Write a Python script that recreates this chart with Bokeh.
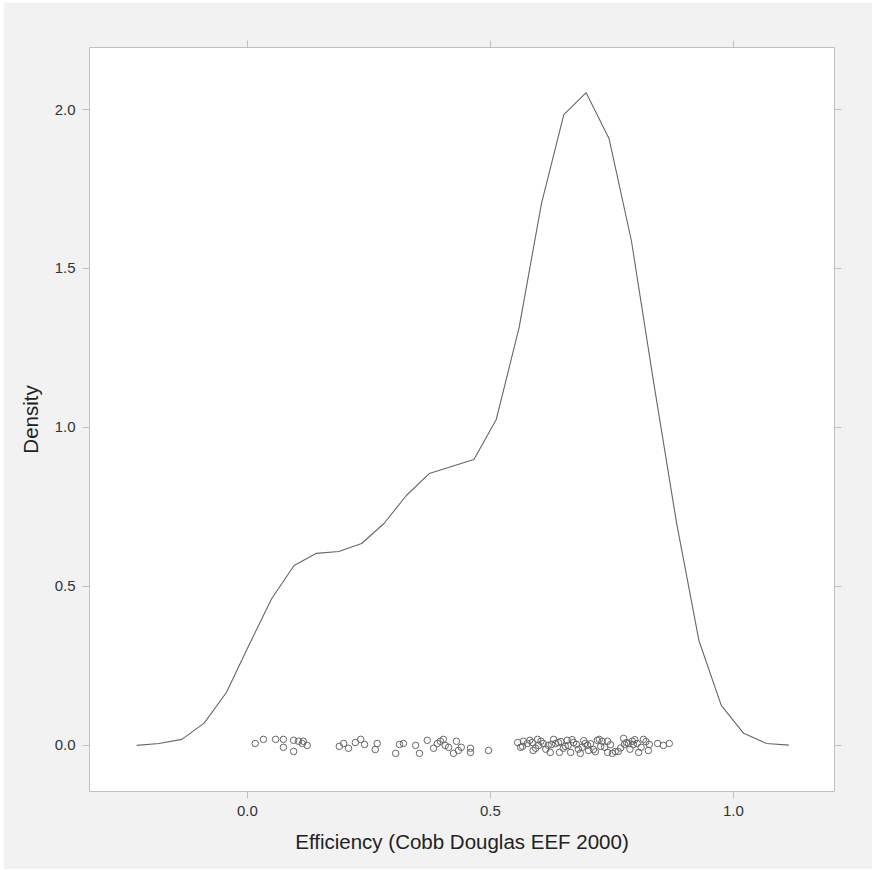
from bokeh.plotting import figure
from bokeh.models import FixedTicker, LinearAxis, Range1d, NumeralTickFormatter
from bokeh.embed import file_html
from bokeh.resources import INLINE

# Density curve
dens_x = [-0.228, -0.182, -0.135, -0.089, -0.043, 0.003, 0.050, 0.096, 0.142, 0.188,
          0.235, 0.281, 0.327, 0.374, 0.420, 0.466, 0.512, 0.559, 0.605, 0.651,
          0.697, 0.744, 0.790, 0.836, 0.883, 0.929, 0.975, 1.021, 1.068, 1.114]
dens_y = [0.000, 0.006, 0.019, 0.070, 0.167, 0.315, 0.462, 0.566, 0.604, 0.610,
          0.635, 0.698, 0.786, 0.855, 0.877, 0.899, 1.025, 1.314, 1.704, 1.984,
          2.053, 1.909, 1.588, 1.140, 0.700, 0.330, 0.126, 0.038, 0.006, 0.001]

# Observed efficiencies (x) with jitter (y) as drawn in the rug of points
obs_x = [0.016, 0.033, 0.058, 0.074, 0.074, 0.095, 0.095, 0.105, 0.113, 0.115, 0.123,
         0.189, 0.198, 0.208, 0.222, 0.233, 0.241, 0.263, 0.267, 0.305, 0.313, 0.321,
         0.346, 0.354, 0.370, 0.383, 0.391, 0.397, 0.403, 0.407, 0.414, 0.424, 0.430,
         0.434, 0.440, 0.459, 0.459, 0.496,
         0.556, 0.562, 0.568, 0.576, 0.586, 0.588, 0.597, 0.599, 0.609, 0.619, 0.623,
         0.630, 0.634, 0.640, 0.642, 0.650, 0.658, 0.660, 0.665, 0.671, 0.677, 0.685,
         0.689, 0.695, 0.700, 0.702, 0.712, 0.720, 0.724, 0.730, 0.735, 0.741, 0.741,
         0.751, 0.757, 0.763, 0.774, 0.776, 0.780, 0.784, 0.792, 0.794, 0.802, 0.805,
         0.815, 0.825, 0.827, 0.844, 0.856, 0.868,
         0.566, 0.581, 0.593, 0.604, 0.614, 0.626, 0.645, 0.654, 0.668, 0.681, 0.692,
         0.706, 0.716, 0.727, 0.747, 0.768, 0.787, 0.797, 0.810, 0.820]
obs_jit = [0.006, 0.019, 0.019, 0.019, -0.006, 0.016, -0.019, 0.013, 0.006, 0.013, 0.000,
           -0.003, 0.006, -0.009, 0.009, 0.019, 0.003, -0.013, 0.006, -0.025, 0.003, 0.006,
           0.000, -0.025, 0.016, -0.009, 0.006, 0.013, 0.019, 0.000, -0.006, -0.025, 0.013,
           -0.016, -0.006, -0.009, -0.022, -0.016,
           0.009, -0.006, 0.013, 0.006, 0.009, -0.016, 0.019, 0.000, 0.006, 0.000, -0.022,
           0.019, 0.006, 0.009, -0.022, -0.009, 0.016, 0.000, -0.022, 0.009, 0.003, -0.025,
           -0.006, 0.006, 0.000, -0.016, -0.013, 0.016, 0.019, 0.013, -0.006, 0.013, -0.022,
           -0.025, -0.019, -0.019, 0.022, 0.003, 0.009, 0.006, 0.013, 0.003, 0.006, -0.022,
           0.019, -0.016, 0.003, 0.006, 0.000, 0.006,
           -0.003, 0.016, -0.009, 0.013, -0.012, 0.003, 0.012, -0.003, 0.018, -0.012, 0.015,
           0.005, -0.020, -0.003, 0.002, -0.008, -0.012, 0.018, -0.006, 0.012]

x_ticks = [0.0, 0.5, 1.0]
y_ticks = [0.0, 0.5, 1.0, 1.5, 2.0]

FONT = "Liberation Sans"
GRID = "#c0c0c0"

p = figure(width=869, height=867, output_backend="svg", toolbar_location=None,
           x_range=Range1d(-0.325, 1.208), y_range=Range1d(-0.145, 2.195),
           min_border_left=86, min_border_right=38, min_border_top=45, min_border_bottom=78,
           background_fill_color="white", border_fill_color="#f2f2f2")
p.margin = (2, 0, 1, 3)
p.outline_line_color = GRID
p.outline_line_width = 1
p.xgrid.visible = False
p.ygrid.visible = False

p.line(dens_x, dens_y, line_color="#666666", line_width=1.1)
p.scatter(obs_x, obs_jit, size=6.5, marker="circle", fill_color=None,
          line_color="#666666", line_width=1)

def style(ax, ticks, labels=True):
    ax.ticker = FixedTicker(ticks=ticks)
    ax.formatter = NumeralTickFormatter(format="0.0")
    ax.axis_line_color = None
    ax.major_tick_line_color = GRID
    ax.major_tick_out = 7
    ax.major_tick_in = 0
    ax.minor_tick_line_color = None
    ax.major_label_text_font = FONT
    ax.major_label_text_font_size = "15px"
    ax.major_label_text_color = "#333333" if labels else None
    ax.major_label_standoff = 7
    ax.axis_label_text_font = FONT
    ax.axis_label_text_font_size = "20.5px"
    ax.axis_label_text_font_style = "normal"
    ax.axis_label_text_color = "#222222"

xa = p.xaxis[0]
ya = p.yaxis[0]
style(xa, x_ticks)
style(ya, y_ticks)
xa.axis_label = "Efficiency (Cobb Douglas EEF 2000)"
ya.axis_label = "Density"
xa.axis_label_standoff = 11
ya.axis_label_standoff = 10

top = LinearAxis()
style(top, x_ticks, labels=False)
top.major_label_text_font_size = "0px"
top.major_label_standoff = 0
p.add_layout(top, "above")
right = LinearAxis()
style(right, y_ticks, labels=False)
right.major_label_text_font_size = "0px"
right.major_label_standoff = 0
p.add_layout(right, "right")

open("out.html", "w").write(file_html(p, INLINE))
